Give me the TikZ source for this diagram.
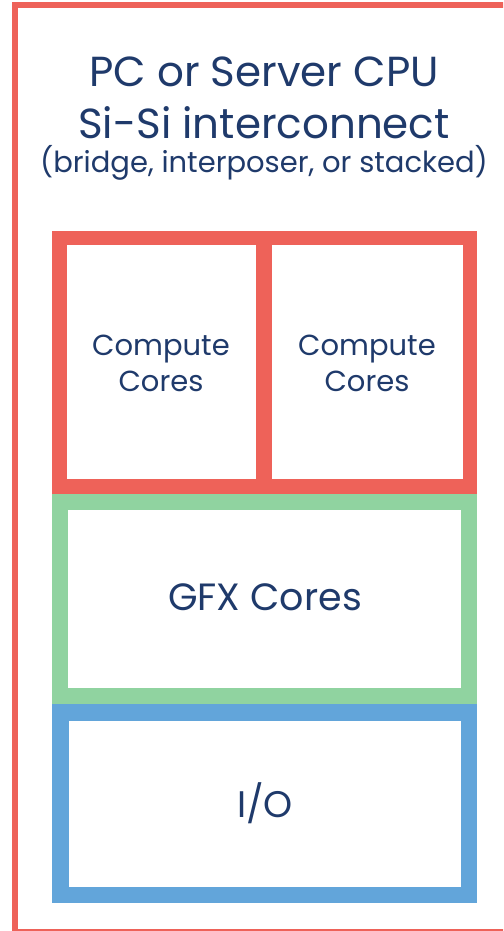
\documentclass[tikz,border=0pt]{standalone}
\usepackage{fontspec}
\setmainfont{Poppins}
\definecolor{chipred}{HTML}{EE6259}
\definecolor{gfxgreen}{HTML}{90D3A0}
\definecolor{iopblue}{HTML}{62A5DA}
\definecolor{textnavy}{HTML}{1F3A6B}
\tikzset{
  die/.style={draw=#1, inner sep=0pt, fill=white},
  lbl/.style={text=textnavy, align=center, inner sep=0pt}
}
\begin{document}
\begin{tikzpicture}[x=1pt,y=-1pt]
	\useasboundingbox (0,0) rectangle (503,931);
	% package outline, runs off the right edge
	\begin{scope}
		\clip (0,0) rectangle (503,931);
		\draw [chipred, line width=6pt] (540,5) -- (15,5) -- (15,932) -- (540,932);
	\end{scope}
	
	\node (cpu) [die=chipred, line width=14.5pt, minimum width=410.5pt, minimum height=248.5pt] at (264.5,362.25) {};
	\node (gfx) [die=gfxgreen, line width=16pt, minimum width=409pt, minimum height=194pt] at (264.5,599) {};
	\node (io) [die=iopblue, line width=16.5pt, minimum width=408.5pt, minimum height=182.5pt] at (264.5,803.5) {};
	\coordinate (divtop) at (264,238);
	\coordinate (divbot) at (264,486.5);
	\draw [chipred, line width=16pt] (divtop) -- (divbot);
	
	\node (title1) [lbl, font=\fontsize{42}{52}\selectfont, anchor=base] at (264,87) {PC or Server CPU};
	\node (title2) [lbl, font=\fontsize{42}{52}\selectfont, anchor=base] at (264,139) {Si-Si interconnect};
	\node (sub) [lbl, font=\fontsize{29}{34}\selectfont, anchor=base] at (264,172) {(bridge, interposer, or stacked)};
	
	\node (cc1) [lbl, font=\fontsize{29}{36}\selectfont] at (161,363) {Compute\\Cores};
	\node (cc2) [lbl, font=\fontsize{29}{36}\selectfont] at (367,363) {Compute\\Cores};
	\node (gfxtxt) [lbl, font=\fontsize{38}{40}\selectfont] at (265,597) {GFX Cores};
	\node (iotxt) [lbl, font=\fontsize{37}{40}\selectfont] at (265,803) {I/O};
\end{tikzpicture}
\end{document}
